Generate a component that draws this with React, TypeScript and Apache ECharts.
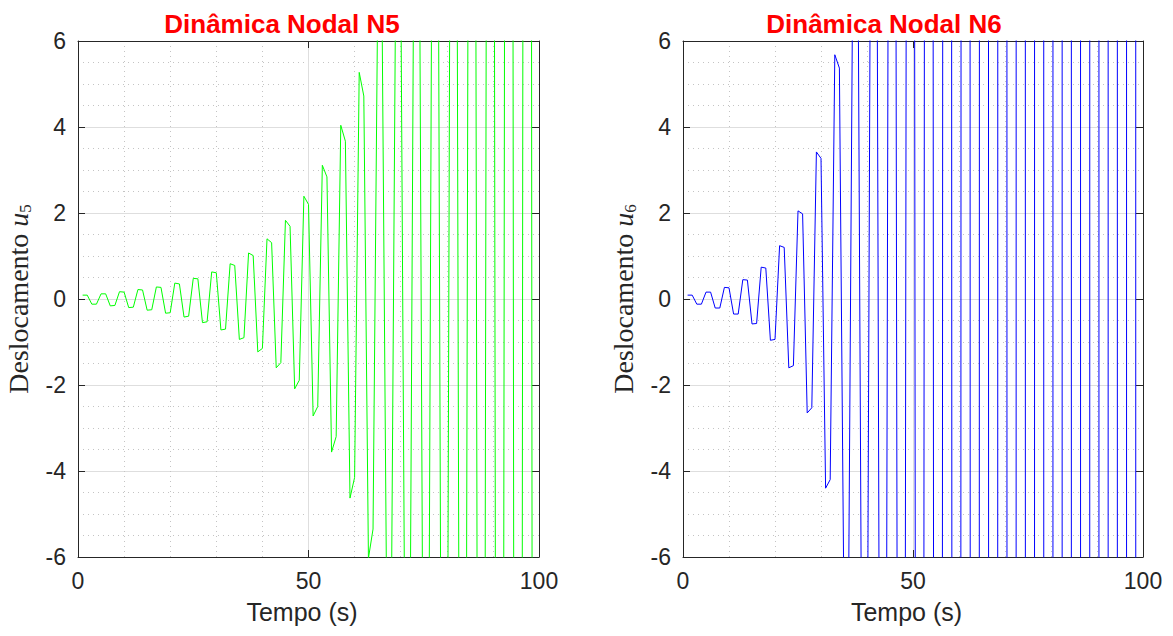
import React, { useEffect, useRef } from "react";
import * as echarts from "echarts";

// Nodal displacement N5 (t = 1..100 s, one sample per second)
const n5Displacement = [
  0.09, 0.09, -0.12, -0.12,
  0.12, 0.12, -0.16, -0.15,
  0.17, 0.16, -0.2, -0.19,
  0.22, 0.21, -0.26, -0.25,
  0.28, 0.27, -0.33, -0.32,
  0.37, 0.35, -0.42, -0.4,
  0.48, 0.47, -0.55, -0.53,
  0.63, 0.61, -0.72, -0.7,
  0.82, 0.78, -0.94, -0.9,
  1.07, 1.01, -1.23, -1.15,
  1.4, 1.31, -1.6, -1.48,
  1.83, 1.69, -2.09, -1.89,
  2.39, 2.2, -2.72, -2.5,
  3.11, 2.84, -3.56, -3.2,
  4.04, 3.67, -4.63, -4.15,
  5.27, 4.72, -6.03, -5.35,
  6.9, 6.1, -7.8, -6.9,
  8.9, 7.9, -10.1, -8.9,
  11.6, 10.2, -13.1, -11.6,
  15.0, 13.3, -17.0, -15.0,
  19.5, 17.3, -22.1, -19.5,
  25.4, 22.5, -28.7, -25.4,
  33.0, 29.2, -37.3, -33.0,
  42.9, 38.0, -48.5, -42.9,
  55.8, 49.4, -63.1, -55.8,
];

// Nodal displacement N6
const n6Displacement = [
  0.09, 0.09, -0.12, -0.12,
  0.16, 0.16, -0.21, -0.21,
  0.27, 0.26, -0.35, -0.35,
  0.45, 0.44, -0.58, -0.57,
  0.74, 0.72, -0.96, -0.94,
  1.24, 1.2, -1.6, -1.55,
  2.05, 1.98, -2.65, -2.53,
  3.42, 3.27, -4.4, -4.2,
  5.68, 5.37, -7.3, -6.9,
  9.4, 8.9, -12.1, -11.4,
  15.5, 14.7, -20.0, -18.8,
  25.6, 24.3, -33.0, -31.0,
  42.0, 40.0, -54.0, -51.0,
  70.0, 66.0, -90.0, -85.0,
  115.0, 109.0, -148.0, -140.0,
  190.0, 180.0, -245.0, -231.0,
  314.0, 297.0, -404.0, -381.0,
  518.0, 490.0, -667.0, -629.0,
  855.0, 809.0, -1100.0, -1038.0,
  1411.0, 1335.0, -1815.0, -1713.0,
  2328.0, 2203.0, -2995.0, -2826.0,
  3841.0, 3635.0, -4942.0, -4663.0,
  6338.0, 5998.0, -8154.0, -7694.0,
  10458.0, 9897.0, -13454.0, -12695.0,
  17256.0, 16330.0, -22199.0, -20947.0,
];

const timeSteps = n5Displacement.map((_, i) => i + 1);

const plotTitles = ["Dinâmica Nodal N5", "Dinâmica Nodal N6"];
const yNames = ["{a|Deslocamento }{b|u}{c|5}", "{a|Deslocamento }{b|u}{c|6}"];
const xName = "Tempo (s)";
const xRange = [0, 100];
const xStep = 50;
const yRange = [-6, 6];
const yStep = 2;

const AXIS = "#262626";
const SANS = "'Liberation Sans', Arial, Helvetica, sans-serif";
const SERIF = "'Liberation Serif', 'DejaVu Serif', serif";

function axesFor(gridIndex: number, yName: string) {
  const common = {
    type: "value",
    gridIndex,
    axisLine: { show: true, onZero: false, lineStyle: { color: AXIS, width: 1 } },
    axisTick: { show: true, inside: true, length: 7, lineStyle: { color: AXIS, width: 1 } },
  };
  const xs = [
    {
      ...common,
      position: "bottom",
      min: xRange[0],
      max: xRange[1],
      interval: xStep,
      axisLabel: { color: AXIS, fontSize: 23, fontFamily: SANS, margin: 12 },
      splitLine: { show: true, lineStyle: { color: "#dedede", width: 1 } },
      minorTick: { show: false, splitNumber: 5 },
      minorSplitLine: { show: true, lineStyle: { color: "#c4c4c4", width: 1, type: [1, 4] } },
      name: xName,
      nameLocation: "middle",
      nameGap: 42,
      nameTextStyle: { color: AXIS, fontSize: 25, fontFamily: SANS, padding: [0, 13, 0, 0] },
    },
    {
      ...common,
      position: "top",
      min: xRange[0],
      max: xRange[1],
      interval: xStep,
      axisLabel: { show: false },
      splitLine: { show: false },
    },
  ];
  const ys = [
    {
      ...common,
      position: "left",
      min: yRange[0],
      max: yRange[1],
      interval: yStep,
      axisLabel: { color: AXIS, fontSize: 23, fontFamily: SANS, margin: 12 },
      splitLine: { show: true, lineStyle: { color: "#dedede", width: 1 } },
      minorTick: { show: false, splitNumber: 4 },
      minorSplitLine: { show: true, lineStyle: { color: "#c4c4c4", width: 1, type: [1, 4] } },
      name: yName,
      nameLocation: "middle",
      nameGap: 44,
      nameTextStyle: {
        rich: {
          a: { fontFamily: SERIF, fontSize: 28, color: AXIS, lineHeight: 30, verticalAlign: "top" },
          b: { fontFamily: SERIF, fontStyle: "italic", fontSize: 28, color: AXIS, lineHeight: 30, verticalAlign: "top" },
          c: { fontFamily: SERIF, fontSize: 17, color: AXIS, lineHeight: 14, verticalAlign: "bottom" },
        },
      },
    },
    {
      ...common,
      position: "right",
      min: yRange[0],
      max: yRange[1],
      interval: yStep,
      axisLabel: { show: false },
      splitLine: { show: false },
    },
  ];
  return { xs, ys };
}

export default function App() {
  const ref = useRef<HTMLDivElement>(null);
  useEffect(() => {
    document.body.style.margin = "0";
    if (!ref.current) return;
    const chart = echarts.init(ref.current, null, { renderer: "svg" });
    const a = axesFor(0, yNames[0]);
    const b = axesFor(1, yNames[1]);
    chart.setOption({
      animation: false,
      backgroundColor: "#ffffff",
      title: [
        {
          text: plotTitles[0],
          left: 277,
          top: 6,
          textAlign: "center",
          textStyle: { color: "#ff0000", fontSize: 26, fontWeight: "bold", fontFamily: SANS },
        },
        {
          text: plotTitles[1],
          left: 879,
          top: 6,
          textAlign: "center",
          textStyle: { color: "#ff0000", fontSize: 26, fontWeight: "bold", fontFamily: SANS },
        },
      ],
      grid: [
        { left: 78, top: 41, width: 461, height: 516 },
        { left: 683, top: 41, width: 460, height: 516 },
      ],
      xAxis: [...a.xs, ...b.xs],
      yAxis: [...a.ys, ...b.ys],
      series: [
        {
          type: "line",
          xAxisIndex: 0,
          yAxisIndex: 0,
          data: n5Displacement.map((v, i) => [timeSteps[i], v]),
          showSymbol: false,
          clip: true,
          lineStyle: { color: "#00ff00", width: 1 },
          itemStyle: { color: "#00ff00" },
        },
        {
          type: "line",
          xAxisIndex: 2,
          yAxisIndex: 2,
          data: n6Displacement.map((v, i) => [timeSteps[i], v]),
          showSymbol: false,
          clip: true,
          lineStyle: { color: "#0000ff", width: 1 },
          itemStyle: { color: "#0000ff" },
        },
      ],
    });
    return () => chart.dispose();
  }, []);
  return <div ref={ref} style={{ width: 1173, height: 636 }} />;
}
